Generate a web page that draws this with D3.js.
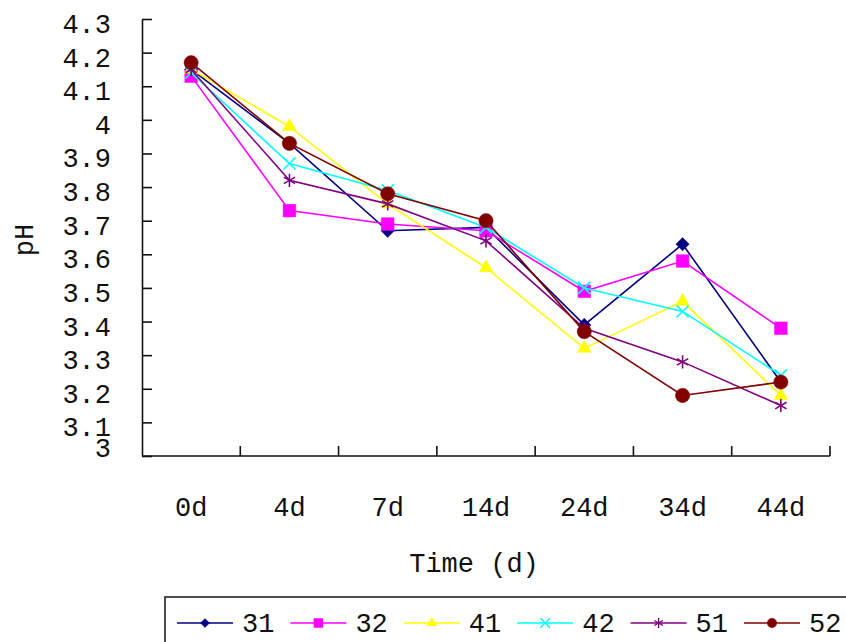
<!DOCTYPE html>
<html>
<head>
<meta charset="utf-8">
<script src="https://cdn.jsdelivr.net/npm/d3@7"></script>
<style>
  body { margin: 0; background: #fff; }
  svg text { font-family: "Liberation Mono", "DejaVu Sans Mono", monospace; fill: #111; }
  .axis path, .axis line { stroke: #111; stroke-width: 1.6; }
</style>
</head>
<body>
<div class="chart_wrapper"></div>
<script>

// data

const days = ["0d", "4d", "7d", "14d", "24d", "34d", "44d"]
const yTicks = [3, 3.1, 3.2, 3.3, 3.4, 3.5, 3.6, 3.7, 3.8, 3.9, 4, 4.1, 4.2, 4.3]

const seriesNames = ["31", "32", "41", "42", "51", "52"]

const s31 = [4.15, 3.93, 3.67, 3.68, 3.39, 3.63, 3.22]
const s32 = [4.13, 3.73, 3.69, 3.67, 3.49, 3.58, 3.38]
const s41 = [4.15, 3.98, 3.75, 3.56, 3.32, 3.46, 3.18]
const s42 = [4.14, 3.87, 3.79, 3.68, 3.50, 3.43, 3.24]
const s51 = [4.15, 3.82, 3.75, 3.64, 3.38, 3.28, 3.15]
const s52 = [4.17, 3.93, 3.78, 3.70, 3.37, 3.18, 3.22]

const seriesValues = [s31, s32, s41, s42, s51, s52]

const colors = ["#000080", "#ff00ff", "#ffff00", "#00ffff", "#800080", "#800000"]

// marker per series: [symbol, size in plot, size in legend, rotation, filled]
const markers = [
  [d3.symbolSquare, 88, 40, 45, true],
  [d3.symbolSquare, 160, 80, 0, true],
  [d3.symbolTriangle, 80, 40, 0, true],
  [d3.symbolTimes, 96, 60, 0, false],
  [d3.symbolAsterisk, 120, 70, 0, false],
  [d3.symbolCircle, 160, 70, 0, true],
]

const dataset = seriesNames.map((name, i) => ({
  name: name,
  color: colors[i],
  marker: markers[i],
  values: seriesValues[i].map((v, j) => ({ day: days[j], ph: v }))
}))

const xAccessor = d => d.day
const yAccessor = d => d.ph


// draw canvas

let dimensions = {
  width: 846,
  height: 642,
  plotLeft: 142,
  plotRight: 830,
  plotTop: 19,
  plotBottom: 456,
}

const wrapper = d3.select(".chart_wrapper")
  .append("svg")
    .attr("width", dimensions.width)
    .attr("height", dimensions.height)

const bounds = wrapper.append("g")


// create scales

const xScale = d3.scaleBand()
  .domain(days)
  .range([dimensions.plotLeft, dimensions.plotRight])
  .paddingInner(0)
  .paddingOuter(0)

const xCenter = d => xScale(xAccessor(d)) + xScale.bandwidth() / 2

const yScale = d3.scaleLinear()
  .domain([3, 4.3])
  .range([dimensions.plotBottom, dimensions.plotTop])


// peripherals

const yAxisGenerator = d3.axisLeft()
  .scale(yScale)
  .tickValues(yTicks)
  .tickSizeInner(-10)
  .tickSizeOuter(0)
  .tickPadding(31)
  .tickFormat(d => d)

const yAxis = bounds.append("g")
  .attr("class", "axis")
  .attr("transform", `translate(${dimensions.plotLeft},0)`)
  .call(yAxisGenerator)

// excel drew the labels a little below their ticks, the bottom one squeezed up
yAxis.selectAll("text")
  .style("font-size", "27px")
  .attr("dy", d => d == 3 ? "0.02em" : "0.5em")

const xAxis = bounds.append("g")
  .attr("class", "axis")

xAxis.append("line")
  .attr("x1", dimensions.plotLeft)
  .attr("x2", dimensions.plotRight)
  .attr("y1", yScale(3))
  .attr("y2", yScale(3))

const xTickPositions = days.slice(1).map(d => xScale(d)).concat([dimensions.plotRight])

xAxis.selectAll(".xtick")
  .data(xTickPositions)
  .enter()
  .append("line")
    .attr("class", "xtick")
    .attr("x1", d => d)
    .attr("x2", d => d)
    .attr("y1", yScale(3))
    .attr("y2", yScale(3) - 10)

xAxis.selectAll(".xlabel")
  .data(days)
  .enter()
  .append("text")
    .attr("class", "xlabel")
    .attr("x", d => xScale(d) + xScale.bandwidth() / 2)
    .attr("y", 516)
    .attr("text-anchor", "middle")
    .style("font-size", "27px")
    .text(d => d)

bounds.append("text")
  .attr("x", 474)
  .attr("y", 572)
  .attr("text-anchor", "middle")
  .style("font-size", "27px")
  .text("Time (d)")

bounds.append("text")
  .attr("transform", "translate(33,240) rotate(-90)")
  .attr("text-anchor", "middle")
  .style("font-size", "27px")
  .text("pH")


// draw data

const lineGenerator = d3.line()
  .x(xCenter)
  .y(d => yScale(yAccessor(d)))

const symbolPath = (m, big) => d3.symbol().type(m[0]).size(big ? m[1] : m[2])()

const seriesGroups = bounds.selectAll(".series")
  .data(dataset)
  .enter()
  .append("g")
    .attr("class", "series")

seriesGroups.append("path")
  .attr("d", d => lineGenerator(d.values))
  .attr("fill", "none")
  .attr("stroke", d => d.color)
  .attr("stroke-width", 1.6)

seriesGroups.each(function(s) {
  d3.select(this).selectAll("path.marker")
    .data(s.values)
    .enter()
    .append("path")
      .attr("class", "marker")
      .attr("d", symbolPath(s.marker, true))
      .attr("transform", d => `translate(${xCenter(d)},${yScale(yAccessor(d))}) rotate(${s.marker[3]})`)
      .attr("fill", s.marker[4] ? s.color : "none")
      .attr("stroke", s.color)
      .attr("stroke-width", s.marker[4] ? 0.5 : 1.6)
})


// legend

const legend = bounds.append("g")

legend.append("rect")
  .attr("x", 165)
  .attr("y", 597)
  .attr("width", 720)
  .attr("height", 80)
  .attr("fill", "none")
  .attr("stroke", "#222")
  .attr("stroke-width", 1.6)

const legendItems = legend.selectAll(".legend-item")
  .data(dataset)
  .enter()
  .append("g")
    .attr("class", "legend-item")
    .attr("transform", (d, i) => `translate(${177 + i * 113.4},623)`)

legendItems.append("line")
  .attr("x1", 0)
  .attr("x2", 56)
  .attr("stroke", d => d.color)
  .attr("stroke-width", 1.6)

legendItems.append("path")
  .attr("d", d => symbolPath(d.marker, false))
  .attr("transform", d => `translate(28,0) rotate(${d.marker[3]})`)
  .attr("fill", d => d.marker[4] ? d.color : "none")
  .attr("stroke", d => d.color)
  .attr("stroke-width", d => d.marker[4] ? 0.5 : 1.4)

legendItems.append("text")
  .attr("x", 65)
  .attr("y", 9)
  .style("font-size", "27px")
  .text(d => d.name)

</script>
</body>
</html>
